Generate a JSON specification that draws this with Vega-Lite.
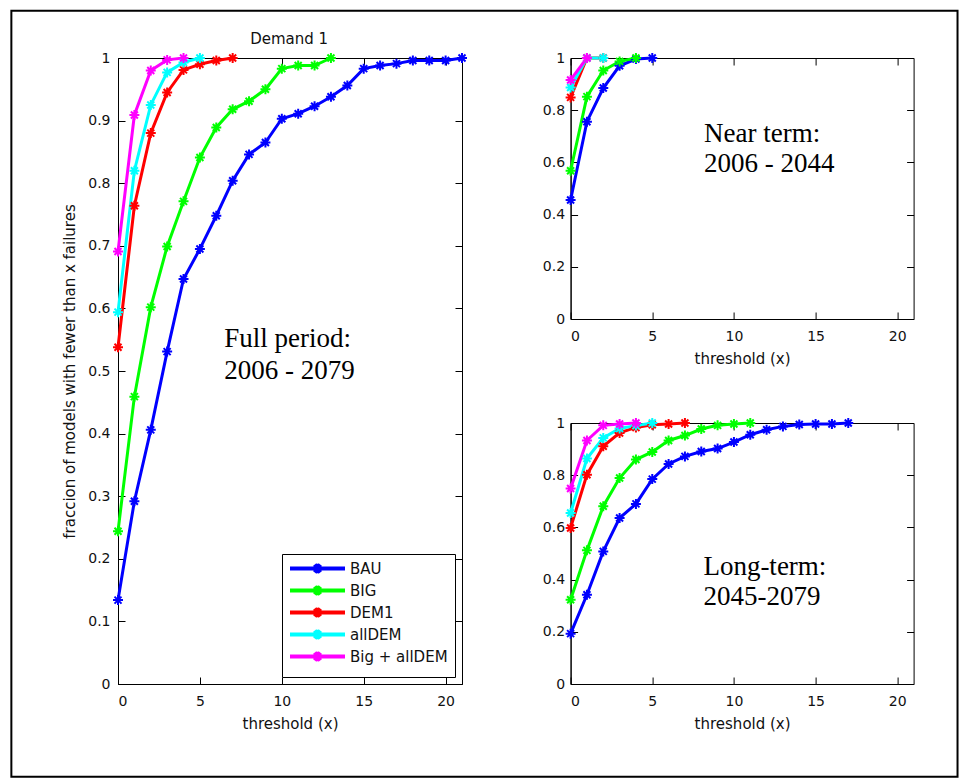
{
  "$schema": "https://vega.github.io/schema/vega-lite/v6.json",
  "autosize": {"type": "pad"},
  "padding": {"left": 9, "top": 9, "right": 2, "bottom": 2},
  "background": "white",
  "datasets": {
    "d": [
      {"p":"full","s":"BAU","x":0,"y":0.134},{"p":"full","s":"BAU","x":1,"y":0.292},{"p":"full","s":"BAU","x":2,"y":0.406},{"p":"full","s":"BAU","x":3,"y":0.531},{"p":"full","s":"BAU","x":4,"y":0.647},{"p":"full","s":"BAU","x":5,"y":0.695},{"p":"full","s":"BAU","x":6,"y":0.748},{"p":"full","s":"BAU","x":7,"y":0.804},{"p":"full","s":"BAU","x":8,"y":0.846},{"p":"full","s":"BAU","x":9,"y":0.865},{"p":"full","s":"BAU","x":10,"y":0.903},{"p":"full","s":"BAU","x":11,"y":0.911},{"p":"full","s":"BAU","x":12,"y":0.923},{"p":"full","s":"BAU","x":13,"y":0.938},{"p":"full","s":"BAU","x":14,"y":0.956},{"p":"full","s":"BAU","x":15,"y":0.983},{"p":"full","s":"BAU","x":16,"y":0.988},{"p":"full","s":"BAU","x":17,"y":0.991},{"p":"full","s":"BAU","x":18,"y":0.996},{"p":"full","s":"BAU","x":19,"y":0.996},{"p":"full","s":"BAU","x":20,"y":0.996},{"p":"full","s":"BAU","x":21,"y":1.0},
      {"p":"full","s":"BIG","x":0,"y":0.244},{"p":"full","s":"BIG","x":1,"y":0.459},{"p":"full","s":"BIG","x":2,"y":0.602},{"p":"full","s":"BIG","x":3,"y":0.699},{"p":"full","s":"BIG","x":4,"y":0.771},{"p":"full","s":"BIG","x":5,"y":0.841},{"p":"full","s":"BIG","x":6,"y":0.889},{"p":"full","s":"BIG","x":7,"y":0.918},{"p":"full","s":"BIG","x":8,"y":0.931},{"p":"full","s":"BIG","x":9,"y":0.95},{"p":"full","s":"BIG","x":10,"y":0.983},{"p":"full","s":"BIG","x":11,"y":0.988},{"p":"full","s":"BIG","x":12,"y":0.988},{"p":"full","s":"BIG","x":13,"y":1.0},
      {"p":"full","s":"DEM1","x":0,"y":0.538},{"p":"full","s":"DEM1","x":1,"y":0.764},{"p":"full","s":"DEM1","x":2,"y":0.88},{"p":"full","s":"DEM1","x":3,"y":0.945},{"p":"full","s":"DEM1","x":4,"y":0.981},{"p":"full","s":"DEM1","x":5,"y":0.99},{"p":"full","s":"DEM1","x":6,"y":0.996},{"p":"full","s":"DEM1","x":7,"y":1.0},
      {"p":"full","s":"allDEM","x":0,"y":0.594},{"p":"full","s":"allDEM","x":1,"y":0.82},{"p":"full","s":"allDEM","x":2,"y":0.925},{"p":"full","s":"allDEM","x":3,"y":0.977},{"p":"full","s":"allDEM","x":4,"y":0.993},{"p":"full","s":"allDEM","x":5,"y":1.0},
      {"p":"full","s":"Big + allDEM","x":0,"y":0.691},{"p":"full","s":"Big + allDEM","x":1,"y":0.909},{"p":"full","s":"Big + allDEM","x":2,"y":0.98},{"p":"full","s":"Big + allDEM","x":3,"y":0.997},{"p":"full","s":"Big + allDEM","x":4,"y":1.0},
      {"p":"near","s":"BAU","x":0,"y":0.456},{"p":"near","s":"BAU","x":1,"y":0.756},{"p":"near","s":"BAU","x":2,"y":0.885},{"p":"near","s":"BAU","x":3,"y":0.97},{"p":"near","s":"BAU","x":4,"y":0.996},{"p":"near","s":"BAU","x":5,"y":1.0},
      {"p":"near","s":"BIG","x":0,"y":0.568},{"p":"near","s":"BIG","x":1,"y":0.852},{"p":"near","s":"BIG","x":2,"y":0.952},{"p":"near","s":"BIG","x":3,"y":0.987},{"p":"near","s":"BIG","x":4,"y":1.0},
      {"p":"near","s":"DEM1","x":0,"y":0.849},{"p":"near","s":"DEM1","x":1,"y":1.0},{"p":"near","s":"DEM1","x":2,"y":1.0},
      {"p":"near","s":"allDEM","x":0,"y":0.887},{"p":"near","s":"allDEM","x":1,"y":1.0},{"p":"near","s":"allDEM","x":2,"y":1.0},
      {"p":"near","s":"Big + allDEM","x":0,"y":0.916},{"p":"near","s":"Big + allDEM","x":1,"y":1.0},
      {"p":"long","s":"BAU","x":0,"y":0.193},{"p":"long","s":"BAU","x":1,"y":0.342},{"p":"long","s":"BAU","x":2,"y":0.508},{"p":"long","s":"BAU","x":3,"y":0.636},{"p":"long","s":"BAU","x":4,"y":0.69},{"p":"long","s":"BAU","x":5,"y":0.785},{"p":"long","s":"BAU","x":6,"y":0.843},{"p":"long","s":"BAU","x":7,"y":0.872},{"p":"long","s":"BAU","x":8,"y":0.891},{"p":"long","s":"BAU","x":9,"y":0.902},{"p":"long","s":"BAU","x":10,"y":0.927},{"p":"long","s":"BAU","x":11,"y":0.955},{"p":"long","s":"BAU","x":12,"y":0.974},{"p":"long","s":"BAU","x":13,"y":0.987},{"p":"long","s":"BAU","x":14,"y":0.994},{"p":"long","s":"BAU","x":15,"y":0.996},{"p":"long","s":"BAU","x":16,"y":0.996},{"p":"long","s":"BAU","x":17,"y":1.0},
      {"p":"long","s":"BIG","x":0,"y":0.323},{"p":"long","s":"BIG","x":1,"y":0.512},{"p":"long","s":"BIG","x":2,"y":0.681},{"p":"long","s":"BIG","x":3,"y":0.789},{"p":"long","s":"BIG","x":4,"y":0.86},{"p":"long","s":"BIG","x":5,"y":0.889},{"p":"long","s":"BIG","x":6,"y":0.933},{"p":"long","s":"BIG","x":7,"y":0.952},{"p":"long","s":"BIG","x":8,"y":0.977},{"p":"long","s":"BIG","x":9,"y":0.991},{"p":"long","s":"BIG","x":10,"y":0.996},{"p":"long","s":"BIG","x":11,"y":1.0},
      {"p":"long","s":"DEM1","x":0,"y":0.598},{"p":"long","s":"DEM1","x":1,"y":0.802},{"p":"long","s":"DEM1","x":2,"y":0.911},{"p":"long","s":"DEM1","x":3,"y":0.962},{"p":"long","s":"DEM1","x":4,"y":0.983},{"p":"long","s":"DEM1","x":5,"y":0.993},{"p":"long","s":"DEM1","x":6,"y":0.996},{"p":"long","s":"DEM1","x":7,"y":1.0},
      {"p":"long","s":"allDEM","x":0,"y":0.655},{"p":"long","s":"allDEM","x":1,"y":0.864},{"p":"long","s":"allDEM","x":2,"y":0.943},{"p":"long","s":"allDEM","x":3,"y":0.979},{"p":"long","s":"allDEM","x":4,"y":0.99},{"p":"long","s":"allDEM","x":5,"y":1.0},
      {"p":"long","s":"Big + allDEM","x":0,"y":0.749},{"p":"long","s":"Big + allDEM","x":1,"y":0.933},{"p":"long","s":"Big + allDEM","x":2,"y":0.991},{"p":"long","s":"Big + allDEM","x":3,"y":0.996},{"p":"long","s":"Big + allDEM","x":4,"y":1.0}
    ]
  },
  "config": {
    "view": {"stroke": "black", "strokeWidth": 1},
    "axis": {"labelFont": "DejaVu Sans", "labelFontSize": 14, "labelColor": "#111", "titleFont": "DejaVu Sans", "titleFontSize": 15, "titleFontWeight": "normal", "titleColor": "#111", "tickSize": -7, "tickColor": "black", "domainColor": "black", "grid": false}
  },
  "spacing": 108.6,
  "bounds": "flush",
  "resolve": {"scale": {"color": "independent"}, "legend": {"color": "independent"}},
  "hconcat": [
    {
      "width": 344, "height": 626,
      "layer": [
        {
          "data": {"values": [{}]},
          "mark": {"type": "rect", "filled": false, "stroke": "black", "strokeWidth": 2, "clip": false},
          "encoding": {
            "x": {"datum": -6.51, "type": "quantitative", "axis": null},
            "x2": {"datum": 51.25},
            "y": {"datum": 1.0756, "type": "quantitative", "axis": null},
            "y2": {"datum": -0.148}
          }
        },
        {
          "data": {"name": "d"},
          "transform": [{"filter": "datum.p === 'full'"}],
          "mark": {"type": "line", "strokeWidth": 3, "clip": false},
          "encoding": {
            "x": {"field": "x", "type": "quantitative", "scale": {"domain": [0, 21], "nice": false, "zero": false}, "axis": {"values": [0, 5, 10, 15, 20], "title": "threshold (x)", "labelPadding": 17, "titlePadding": 8}},
            "y": {"field": "y", "type": "quantitative", "scale": {"domain": [0, 1], "nice": false}, "axis": {"values": [0, 0.1, 0.2, 0.3, 0.4, 0.5, 0.6, 0.7, 0.8, 0.9, 1], "format": "~g", "title": "fraccion of models with fewer than x failures", "labelPadding": 15, "titlePadding": 10}},
            "color": {"field": "s", "type": "nominal", "scale": {"domain": ["BAU", "BIG", "DEM1", "allDEM", "Big + allDEM"], "range": ["#0000ff", "#00ff00", "#ff0000", "#00ffff", "#ff00ff"]},
              "legend": {"title": null, "orient": "bottom-right", "offset": 7, "strokeColor": "black", "fillColor": "white", "padding": 7, "symbolType": "M-5.5,0L5.5,0M-0.55,-0.8L0.55,0.8M-0.55,0.8L0.55,-0.8M0,-0.95L0,0.95", "symbolSize": 100, "symbolStrokeWidth": 4, "symbolOffset": 21, "labelOffset": 25, "labelFont": "DejaVu Sans", "labelFontSize": 15, "labelColor": "#111", "rowPadding": -5}}
          }
        },
        {
          "data": {"name": "d"},
          "transform": [{"filter": "datum.p === 'full'"}],
          "mark": {"type": "point", "shape": "M-1,0L1,0M0,-1L0,1M-0.7,-0.7L0.7,0.7M-0.7,0.7L0.7,-0.7", "filled": false, "strokeWidth": 2, "size": 100, "opacity": 1, "clip": false},
          "encoding": {
            "x": {"field": "x", "type": "quantitative", "axis": {"orient": "top", "values": [0, 5, 10, 15, 20], "labels": false, "domain": false, "title": null}},
            "y": {"field": "y", "type": "quantitative", "axis": {"orient": "right", "values": [0, 0.1, 0.2, 0.3, 0.4, 0.5, 0.6, 0.7, 0.8, 0.9, 1], "labels": false, "domain": false, "title": null}},
            "color": {"field": "s", "type": "nominal"}
          }
        },
        {
          "data": {"values": [{}]},
          "mark": {"type": "text", "font": "DejaVu Sans", "fontSize": 15, "align": "center", "baseline": "alphabetic", "color": "#111"},
          "encoding": {"x": {"datum": 10.45, "type": "quantitative", "axis": null}, "y": {"datum": 1.0224, "type": "quantitative", "axis": null}, "text": {"value": "Demand 1"}}
        },
        {
          "data": {"values": [{}]},
          "mark": {"type": "text", "font": "Liberation Serif", "fontSize": 27, "align": "left", "baseline": "alphabetic", "color": "black"},
          "encoding": {"x": {"datum": 6.49, "type": "quantitative", "axis": null}, "y": {"datum": 0.5377, "type": "quantitative", "axis": null}, "text": {"value": "Full period:"}}
        },
        {
          "data": {"values": [{}]},
          "mark": {"type": "text", "font": "Liberation Serif", "fontSize": 27, "align": "left", "baseline": "alphabetic", "color": "black"},
          "encoding": {"x": {"datum": 6.49, "type": "quantitative", "axis": null}, "y": {"datum": 0.4872, "type": "quantitative", "axis": null}, "text": {"value": "2006 - 2079"}}
        }
      ],
      "resolve": {"axis": {"x": "independent", "y": "independent"}}
    },
    {
      "spacing": 104,
      "bounds": "flush",
      "vconcat": [
        {
          "width": 343, "height": 261,
          "layer": [
            {
              "data": {"name": "d"},
              "transform": [{"filter": "datum.p === 'near'"}],
              "mark": {"type": "line", "strokeWidth": 3, "clip": false},
              "encoding": {
                "x": {"field": "x", "type": "quantitative", "scale": {"domain": [0, 21], "nice": false, "zero": false}, "axis": {"values": [0, 5, 10, 15, 20], "title": "threshold (x)", "labelPadding": 17, "titlePadding": 8}},
                "y": {"field": "y", "type": "quantitative", "scale": {"domain": [0, 1], "nice": false}, "axis": {"values": [0, 0.2, 0.4, 0.6, 0.8, 1], "format": "~g", "title": null, "labelPadding": 13}},
                "color": {"field": "s", "type": "nominal", "scale": {"domain": ["BAU", "BIG", "DEM1", "allDEM", "Big + allDEM"], "range": ["#0000ff", "#00ff00", "#ff0000", "#00ffff", "#ff00ff"]}, "legend": null}
              }
            },
            {
              "data": {"name": "d"},
              "transform": [{"filter": "datum.p === 'near'"}],
              "mark": {"type": "point", "shape": "M-1,0L1,0M0,-1L0,1M-0.7,-0.7L0.7,0.7M-0.7,0.7L0.7,-0.7", "filled": false, "strokeWidth": 2, "size": 100, "opacity": 1, "clip": false},
              "encoding": {
                "x": {"field": "x", "type": "quantitative", "axis": {"orient": "top", "values": [0, 5, 10, 15, 20], "labels": false, "domain": false, "title": null}},
                "y": {"field": "y", "type": "quantitative", "axis": {"orient": "right", "values": [0, 0.2, 0.4, 0.6, 0.8, 1], "labels": false, "domain": false, "title": null}},
                "color": {"field": "s", "type": "nominal", "legend": null}
              }
            },
            {
              "data": {"values": [{}]},
              "mark": {"type": "text", "font": "Liberation Serif", "fontSize": 27, "align": "left", "baseline": "alphabetic", "color": "black"},
              "encoding": {"x": {"datum": 8.17, "type": "quantitative", "axis": null}, "y": {"datum": 0.68, "type": "quantitative", "axis": null}, "text": {"value": "Near term:"}}
            },
            {
              "data": {"values": [{}]},
              "mark": {"type": "text", "font": "Liberation Serif", "fontSize": 27, "align": "left", "baseline": "alphabetic", "color": "black"},
              "encoding": {"x": {"datum": 8.17, "type": "quantitative", "axis": null}, "y": {"datum": 0.5617, "type": "quantitative", "axis": null}, "text": {"value": "2006 - 2044"}}
            }
          ],
          "resolve": {"axis": {"x": "independent", "y": "independent"}}
        },
        {
          "width": 343, "height": 261,
          "layer": [
            {
              "data": {"name": "d"},
              "transform": [{"filter": "datum.p === 'long'"}],
              "mark": {"type": "line", "strokeWidth": 3, "clip": false},
              "encoding": {
                "x": {"field": "x", "type": "quantitative", "scale": {"domain": [0, 21], "nice": false, "zero": false}, "axis": {"values": [0, 5, 10, 15, 20], "title": "threshold (x)", "labelPadding": 17, "titlePadding": 8}},
                "y": {"field": "y", "type": "quantitative", "scale": {"domain": [0, 1], "nice": false}, "axis": {"values": [0, 0.2, 0.4, 0.6, 0.8, 1], "format": "~g", "title": null, "labelPadding": 13}},
                "color": {"field": "s", "type": "nominal", "scale": {"domain": ["BAU", "BIG", "DEM1", "allDEM", "Big + allDEM"], "range": ["#0000ff", "#00ff00", "#ff0000", "#00ffff", "#ff00ff"]}, "legend": null}
              }
            },
            {
              "data": {"name": "d"},
              "transform": [{"filter": "datum.p === 'long'"}],
              "mark": {"type": "point", "shape": "M-1,0L1,0M0,-1L0,1M-0.7,-0.7L0.7,0.7M-0.7,0.7L0.7,-0.7", "filled": false, "strokeWidth": 2, "size": 100, "opacity": 1, "clip": false},
              "encoding": {
                "x": {"field": "x", "type": "quantitative", "axis": {"orient": "top", "values": [0, 5, 10, 15, 20], "labels": false, "domain": false, "title": null}},
                "y": {"field": "y", "type": "quantitative", "axis": {"orient": "right", "values": [0, 0.2, 0.4, 0.6, 0.8, 1], "labels": false, "domain": false, "title": null}},
                "color": {"field": "s", "type": "nominal", "legend": null}
              }
            },
            {
              "data": {"values": [{}]},
              "mark": {"type": "text", "font": "Liberation Serif", "fontSize": 27, "align": "left", "baseline": "alphabetic", "color": "black"},
              "encoding": {"x": {"datum": 8.13, "type": "quantitative", "axis": null}, "y": {"datum": 0.419, "type": "quantitative", "axis": null}, "text": {"value": "Long-term:"}}
            },
            {
              "data": {"values": [{}]},
              "mark": {"type": "text", "font": "Liberation Serif", "fontSize": 27, "align": "left", "baseline": "alphabetic", "color": "black"},
              "encoding": {"x": {"datum": 8.13, "type": "quantitative", "axis": null}, "y": {"datum": 0.304, "type": "quantitative", "axis": null}, "text": {"value": "2045-2079"}}
            }
          ],
          "resolve": {"axis": {"x": "independent", "y": "independent"}}
        }
      ]
    }
  ]
}
